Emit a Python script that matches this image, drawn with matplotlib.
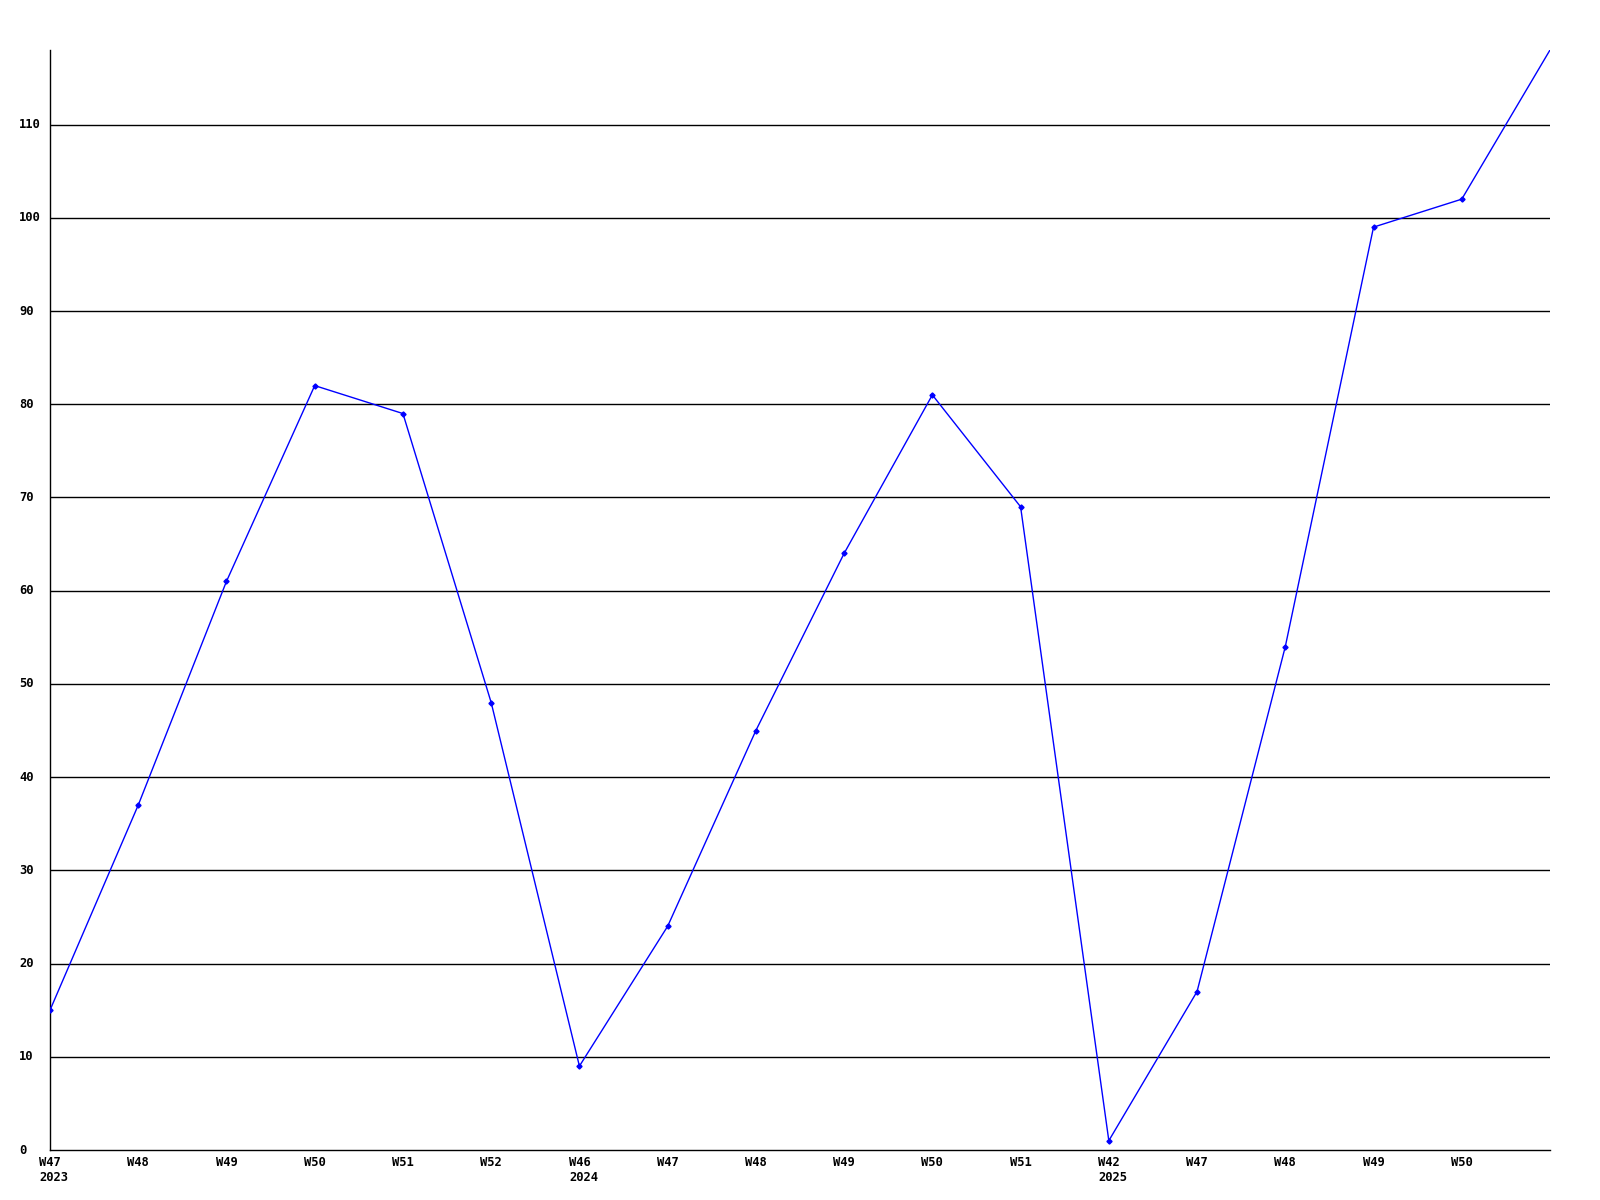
import matplotlib
matplotlib.use("Agg")
import matplotlib.pyplot as plt
from matplotlib import transforms

weeks = ["W47", "W48", "W49", "W50", "W51", "W52", "W46", "W47", "W48",
         "W49", "W50", "W51", "W42", "W47", "W48", "W49", "W50", ""]
years = {0: "2023", 6: "2024", 12: "2025"}
values = [15, 37, 61, 82, 79, 48, 9, 24, 45, 64, 81, 69, 1, 17, 54, 99, 102, 118]
yticks = [0, 10, 20, 30, 40, 50, 60, 70, 80, 90, 100, 110]

W, H = 1600, 1200
fig = plt.figure(figsize=(16, 12), dpi=100)
ax = fig.add_axes([50 / W, 50 / H, 1500 / W, 1100 / H])

xs = list(range(len(values)))
ax.set_xlim(0, len(values) - 1)
ax.set_ylim(0, 118)

for t in yticks[1:]:
    ax.axhline(t, color="black", lw=1.0, zorder=1)

ax.plot(xs, values, color="#0000ff", lw=1.0, marker="D", markersize=2.6,
        markevery=list(range(len(values) - 1)), zorder=3, clip_on=True)

for s in ["top", "right"]:
    ax.spines[s].set_visible(False)
for s in ["left", "bottom"]:
    ax.spines[s].set_linewidth(1.0)
ax.set_xticks([])
ax.set_yticks([])

font = dict(family="DejaVu Sans Mono", weight="bold", fontsize=8.7)

tr = transforms.blended_transform_factory(fig.transFigure, ax.transData)
for t in yticks:
    ax.text(19 / W, t, str(t), transform=tr, ha="left", va="center", **font)

for i, w in enumerate(weeks):
    if w:
        ax.annotate(w, xy=(i, 0), xycoords=("data", "axes fraction"),
                    xytext=(0, -6), textcoords="offset pixels",
                    ha="center", va="top", annotation_clip=False, **font)
    if i in years:
        ax.annotate(years[i], xy=(i, 0), xycoords=("data", "axes fraction"),
                    xytext=(-10.5, -21), textcoords="offset pixels",
                    ha="left", va="top", annotation_clip=False, **font)

fig.savefig("out.png", dpi=100)
